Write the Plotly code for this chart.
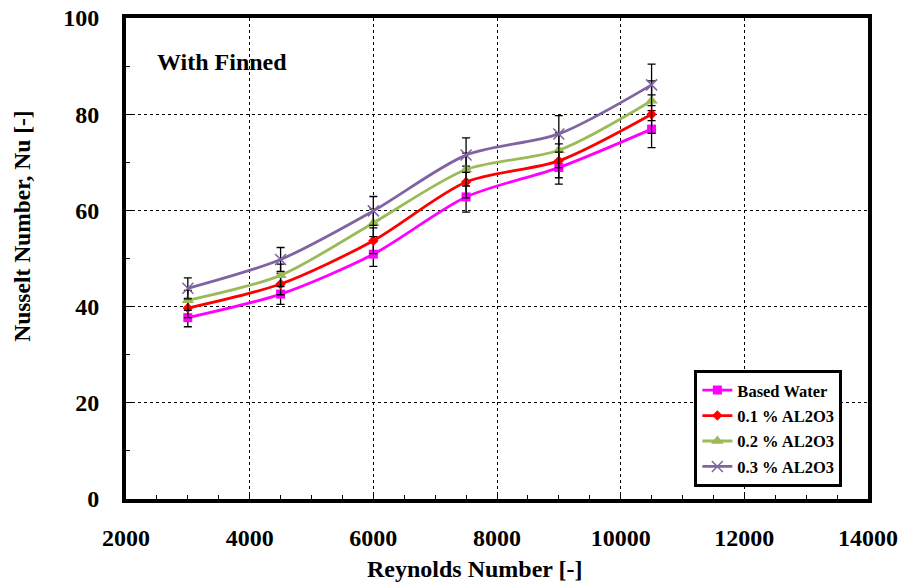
import plotly.graph_objects as go

# Reynolds number test points
reynolds = [3000, 4500, 6000, 7500, 9000, 10500]

# Nusselt number for each working fluid
nu_water = [37.7, 42.6, 50.9, 62.8, 68.9, 76.9]
nu_01 = [39.7, 44.7, 53.7, 65.9, 70.3, 80.0]
nu_02 = [41.3, 46.5, 57.4, 68.5, 72.5, 82.8]
nu_03 = [43.8, 49.8, 59.9, 71.5, 75.9, 86.1]

series_names = ["Based Water", "0.1 % AL2O3", "0.2 % AL2O3", "0.3 % AL2O3"]
error_percent = 5

x_ticks = [2000, 4000, 6000, 8000, 10000, 12000, 14000]
x_labels = ["2000", "4000", "6000", "8000", "10000", "12000", "14000"]
y_ticks = [0, 20, 40, 60, 80, 100]

FONT = "Liberation Serif"

styles = [
    dict(color="#FF00FF", symbol="square", size=9, mline=0),
    dict(color="#FF0000", symbol="diamond", size=8, mline=0),
    dict(color="#9BBB59", symbol="triangle-up", size=11, mline=0),
    dict(color="#8064A2", symbol="x-thin", size=11, mline=1.5),
]

fig = go.Figure()
for i, (name, vals, st) in enumerate(zip(series_names, [nu_water, nu_01, nu_02, nu_03], styles)):
    fig.add_trace(go.Scatter(
        x=reynolds, y=vals, name=name, mode="lines+markers",
        legendgroup=f"g{i}",
        line=dict(color=st["color"], width=2.8, shape="spline", smoothing=0.8),
        marker=dict(symbol=st["symbol"], size=st["size"], color=st["color"],
                    line=dict(color=st["color"], width=st["mline"])),
        error_y=dict(type="percent", value=error_percent, color="black",
                     thickness=1.3, width=4),
    ))

axis_common = dict(
    showline=True, linewidth=4, linecolor="black", mirror=True,
    showgrid=True, gridcolor="black", gridwidth=1, griddash="dot",
    ticks="inside", ticklen=7, tickwidth=1, tickcolor="black",
    zeroline=False, automargin=False,
    tickfont=dict(family=FONT, size=24, color="black", weight="bold"),
)

fig.update_xaxes(
    range=[2000, 14000], tickvals=x_ticks, ticktext=x_labels, ticklabelstandoff=14,
    minor=dict(dtick=500, ticks="inside", ticklen=4, tickcolor="black", showgrid=False),
    **axis_common,
)
fig.update_yaxes(
    range=[0, 100], tickvals=y_ticks, ticklabelstandoff=18,
    minor=dict(dtick=10, ticks="inside", ticklen=4, tickcolor="black", showgrid=False),
    **axis_common,
)

fig.add_annotation(
    text="Reynolds Number [-]", xref="paper", yref="paper",
    x=0.4707, y=-0.1455, xanchor="center", yanchor="middle", showarrow=False,
    font=dict(family=FONT, size=24, color="black", weight="bold"),
)
fig.add_annotation(
    text="Nusselt Number, Nu [-]", xref="paper", yref="paper",
    x=-0.1394, y=0.567, xanchor="center", yanchor="middle", showarrow=False,
    textangle=-90,
    font=dict(family=FONT, size=23.5, color="black", weight="bold"),
)
fig.add_annotation(
    text="With Finned", xref="paper", yref="paper",
    x=0.130, y=0.9085, xanchor="center", yanchor="middle", showarrow=False,
    font=dict(family=FONT, size=24, color="black", weight="bold"),
)

fig.update_layout(
    width=901, height=582,
    margin=dict(l=125.5, r=33, t=18, b=83.3, autoexpand=False),
    paper_bgcolor="white", plot_bgcolor="white",
    showlegend=True,
    legend=dict(
        x=0.766, y=0.2685, xanchor="left", yanchor="top",
        bgcolor="white", bordercolor="black", borderwidth=3,
        font=dict(family=FONT, size=16.5, color="black", weight="bold"),
        tracegroupgap=1, itemwidth=30,
    ),
)

fig.write_html("out.html")
